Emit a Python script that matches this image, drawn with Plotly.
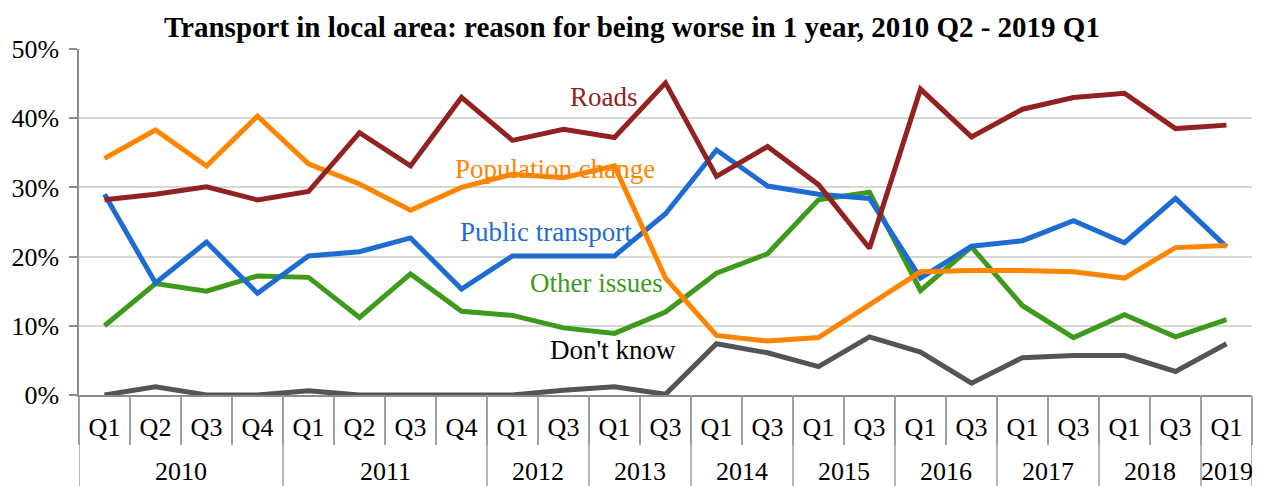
import plotly.graph_objects as go

years = ["2010"] * 4 + ["2011"] * 4 + ["2012"] * 2 + ["2013"] * 2 + ["2014"] * 2 \
    + ["2015"] * 2 + ["2016"] * 2 + ["2017"] * 2 + ["2018"] * 2 + ["2019"]
quarters = ["Q1", "Q2", "Q3", "Q4", "Q1", "Q2", "Q3", "Q4"] + ["Q1", "Q3"] * 7 + ["Q1"]

roads = [28.2, 29.0, 30.1, 28.2, 29.4, 37.9, 33.1, 43.0, 36.8, 38.4, 37.2, 45.1,
         31.6, 35.9, 30.4, 21.2, 44.2, 37.3, 41.3, 43.0, 43.6, 38.5, 39.0]
population_change = [34.2, 38.3, 33.1, 40.3, 33.4, 30.5, 26.7, 30.0, 31.9, 31.4, 33.1, 16.9,
                     8.6, 7.8, 8.3, 13.0, 17.8, 18.0, 18.0, 17.8, 16.9, 21.3, 21.6]
public_transport = [29.0, 16.2, 22.1, 14.7, 20.1, 20.7, 22.7, 15.3, 20.1, 20.1, 20.1, 26.2,
                    35.4, 30.2, 29.0, 28.4, 16.9, 21.5, 22.3, 25.2, 22.0, 28.4, 21.4]
other_issues = [10.0, 16.1, 15.0, 17.2, 17.0, 11.2, 17.5, 12.1, 11.5, 9.7, 8.9, 12.0,
                17.6, 20.4, 28.2, 29.3, 15.1, 21.4, 12.9, 8.3, 11.6, 8.4, 10.9]
dont_know = [0.0, 1.2, 0.0, 0.0, 0.6, 0.0, 0.0, 0.0, 0.0, 0.7, 1.2, 0.1,
             7.4, 6.1, 4.1, 8.4, 6.2, 1.7, 5.4, 5.7, 5.7, 3.4, 7.4]

FONT = "Liberation Serif"
AXIS_GREY = "#a0a0a0"

# one unique category per survey point; quarter shown as tick text
cats = [f"{y} {q}" for y, q in zip(years, quarters)]

# name, values, line colour, label colour, label x/y (paper)
series = [
    ("Don't know", dont_know, "#545458", "#000000", 0.455, 0.082),
    ("Other issues", other_issues, "#3E9A1D", "#3E9A1D", 0.4416, 0.276),
    ("Public transport", public_transport, "#1E6CD2", "#1E6CD2", 0.398, 0.4725),
    ("Population change", population_change, "#FF8400", "#FF8400", 0.4058, 0.701),
    ("Roads", roads, "#922121", "#922121", 0.4476, 0.909),
]

fig = go.Figure()

for name, vals, color, label_color, lx, ly in series:
    fig.add_trace(
        go.Scatter(
            x=cats,
            y=[v / 100 for v in vals],
            mode="lines",
            line=dict(color=color, width=5),
            name=name,
            showlegend=False,
            hoverinfo="skip",
        )
    )
    fig.add_annotation(
        x=lx, y=ly, xref="paper", yref="paper",
        text=name, showarrow=False,
        font=dict(family=FONT, size=27, color=label_color),
    )

# year row: label centred under its quarters, divider at each year boundary
groups = []
for i, y in enumerate(years):
    if not groups or groups[-1][0] != y:
        groups.append([y, i, i])
    else:
        groups[-1][2] = i

for y, first, last in groups:
    fig.add_annotation(
        x=(first + last) / 2, y=-0.222, xref="x", yref="paper",
        text=y, showarrow=False, yanchor="middle",
        font=dict(family=FONT, size=26, color="black"),
    )
    fig.add_shape(
        type="line", xref="x", yref="paper",
        x0=first - 0.5, x1=first - 0.5, y0=0, y1=-0.32,
        line=dict(color=AXIS_GREY, width=1.5),
    )
fig.add_shape(
    type="line", xref="x", yref="paper",
    x0=len(cats) - 0.5, x1=len(cats) - 0.5, y0=0, y1=-0.32,
    line=dict(color=AXIS_GREY, width=1.5),
)

fig.update_layout(
    width=1263,
    height=486,
    paper_bgcolor="white",
    plot_bgcolor="white",
    margin=dict(l=71, r=19, t=41, b=99),
    title=dict(
        text="<b>Transport in local area: reason for being worse in 1 year, 2010 Q2 - 2019 Q1</b>",
        x=0.494, xanchor="center", y=0.961, yanchor="middle",
        font=dict(family=FONT, size=29, color="black"),
    ),
    xaxis=dict(
        type="category",
        tickmode="array",
        tickvals=cats,
        ticktext=quarters,
        range=[-0.5, len(cats) - 0.5],
        automargin=False,
        showline=True,
        linecolor="#8c8c8c",
        linewidth=1.5,
        ticks="outside",
        tickson="boundaries",
        ticklen=48,
        tickwidth=1.5,
        tickcolor=AXIS_GREY,
        ticklabelstandoff=8,
        showgrid=False,
        tickfont=dict(family=FONT, size=26, color="black"),
    ),
    yaxis=dict(
        range=[0, 0.5],
        dtick=0.1,
        tickformat=".0%",
        automargin=False,
        showgrid=True,
        gridcolor="#d8d8d2",
        gridwidth=2,
        zeroline=False,
        showline=True,
        linecolor="#8c8c8c",
        linewidth=1.5,
        ticks="outside",
        ticklen=8,
        tickwidth=1.5,
        tickcolor="#8c8c8c",
        ticklabelstandoff=5,
        tickfont=dict(family=FONT, size=26, color="black"),
    ),
)

fig.write_html("out.html")
